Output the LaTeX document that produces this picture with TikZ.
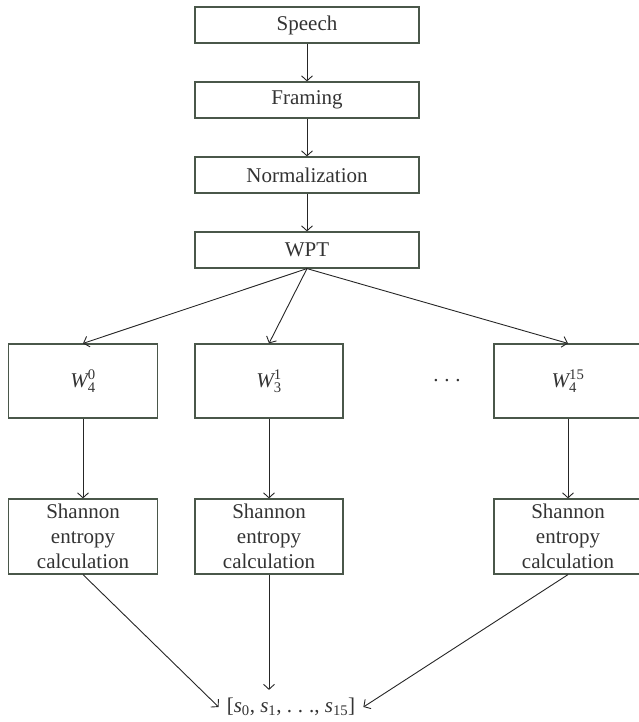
\documentclass[tikz,border=0pt]{standalone}
\usepackage{amsmath}
\usepackage{fontspec}
\setmainfont{Liberation Serif}
\usetikzlibrary{arrows.meta,positioning}
\definecolor{boxline}{HTML}{4A574A}
\definecolor{inkgray}{HTML}{333333}
\newcommand{\wband}[2]{$\textit{W}_{\text{#1}}^{\text{#2}}$}
\newcommand{\spdots}{.\hspace{0.28em}.\hspace{0.28em}.}
\begin{document}
\begin{tikzpicture}[x=1pt,y=-1pt]

\tikzset{block/.style={
    draw=boxline, line width=1.2pt,
    minimum width=#1, minimum height=36pt,
    inner sep=0pt, align=center, text=inkgray,
    font=\fontsize{21}{25}\selectfont
  },
  block/.default=224pt,
  flow/.style={-{Straight Barb[length=5pt,width=11pt]}, line width=0.9pt, draw=black!85}
}

\useasboundingbox (0,0) rectangle (638,722);

\node[block] (speech) at (307,25) {Speech};
\node[block] (framing) at (307,100) {Framing};
\node[block] (norm) at (307,175) {Normalization};
\node[block] (wpt) at (307,250) {WPT};

\node[block=149pt, minimum height=74pt] (w0) at (83,381) {\wband{4}{0}};
\node[block=148pt, minimum height=74pt] (w1) at (269,381) {\wband{3}{1}};
\node[text=inkgray, font=\fontsize{21}{25}\selectfont] (dots) at (447,381) {\spdots};
\node[block=148pt, minimum height=74pt] (w15) at (568,381) {\wband{4}{15}};

\node[block=149pt, minimum height=75pt] (sh0) at (83,536.5) {Shannon\\entropy\\calculation};
\node[block=148pt, minimum height=75pt] (sh1) at (269,536.5) {Shannon\\entropy\\calculation};
\node[block=148pt, minimum height=75pt] (sh15) at (568,536.5) {Shannon\\entropy\\calculation};

\node[text=inkgray, inner sep=8pt, font=\fontsize{21}{25}\selectfont] (vec) at (291,707)
  {[\textit{s}$_{\text{0}}$, \textit{s}$_{\text{1}}$, \spdots, \textit{s}$_{\text{15}}$]};

\draw[flow] (speech) -- (framing);
\draw[flow] (framing) -- (norm);
\draw[flow] (norm) -- (wpt);
\draw[flow] (wpt.south) -- (w0.north);
\draw[flow] (wpt.south) -- (w1.north);
\draw[flow] (wpt.south) -- (w15.north);
\draw[flow] (w0) -- (sh0);
\draw[flow] (w1) -- (sh1);
\draw[flow] (w15) -- (sh15);
\draw[flow] (sh0.south) -- (vec.west);
\draw[flow] (sh1.south) -- (sh1.south |- vec.north);
\draw[flow] (sh15.south) -- (vec.east);

\end{tikzpicture}
\end{document}
